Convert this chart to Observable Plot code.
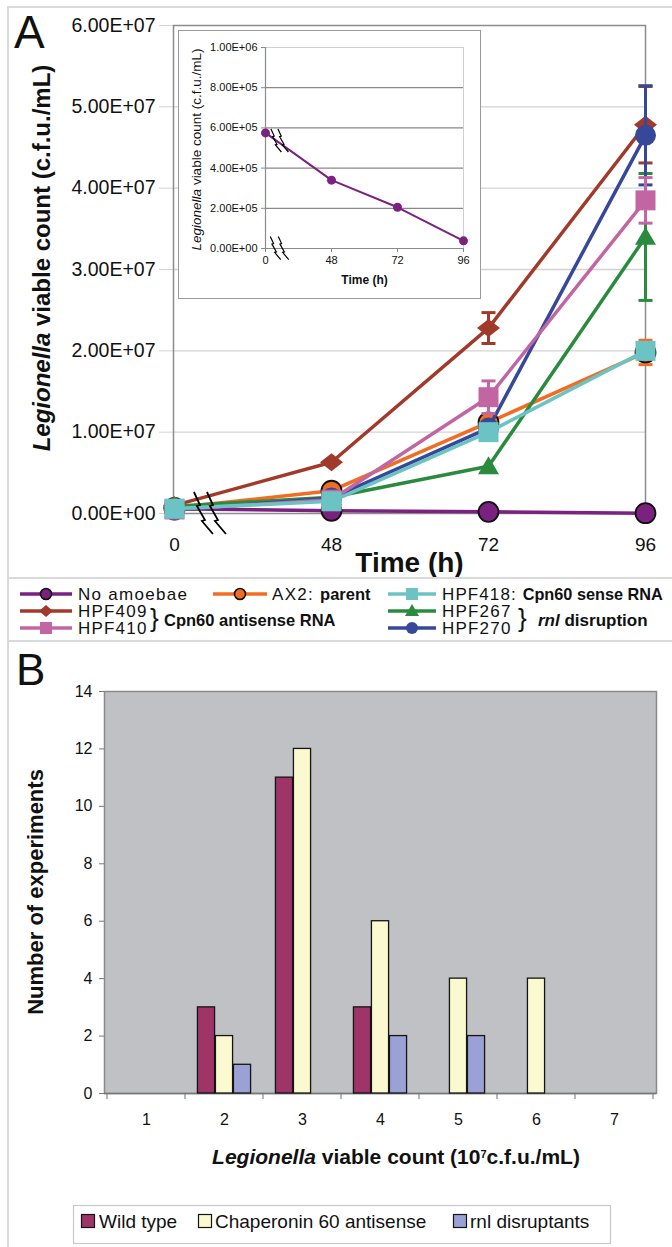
<!DOCTYPE html>
<html><head><meta charset="utf-8">
<script src="https://cdn.jsdelivr.net/npm/d3@7"></script>
<script src="https://cdn.jsdelivr.net/npm/@observablehq/plot@0.6"></script>
<style>
body{margin:0;background:#fff;font-family:"Liberation Sans",Arial,sans-serif;}
#page{position:relative;width:672px;height:1247px;overflow:hidden;background:#fff;}
.abs{position:absolute;}
.hline{position:absolute;left:8px;right:0;height:2px;background:#d9d9d9;}
</style></head><body><div id="page"></div>
<script>
// ---------- data: panel A ----------
const times = [0, 48, 72, 96];
const timeLabels = ["0", "48", "72", "96"];
const noAmoebae = [5.75e5, 3.4e5, 2.05e5, 3.8e4];
const ax2Parent = [7e5, 2.8e6, 1.12e7, 1.98e7];
const hpf418 = [6e5, 1.5e6, 1.0e7, 2.0e7];
const hpf409 = [1.0e6, 6.3e6, 2.28e7, 4.78e7];
const hpf410 = [5e5, 1.7e6, 1.43e7, 3.85e7];
const hpf267 = [9e5, 2.0e6, 5.8e6, 3.4e7];
const hpf270 = [4e5, 1.9e6, 1.05e7, 4.65e7];
const errAx2 = [0, 0, 0, 1.5e6];
const err409 = [0, 0, 1.9e6, 4.7e6];
const err410 = [0, 0, 2.0e6, 2.8e6];
const err267 = [0, 0, 0, 7.8e6];
const err270 = [0, 0, 0, 6.1e6];
const yTicksA = [0, 1e7, 2e7, 3e7, 4e7, 5e7, 6e7];
const yTicksInset = [0, 2e5, 4e5, 6e5, 8e5, 1e6];
// ---------- data: panel B ----------
const countBins = [1, 2, 3, 4, 5, 6, 7];
const wildType = [0, 3, 11, 3, 0, 0, 0];
const chaperonin60 = [0, 2, 12, 6, 4, 4, 0];
const rnlDisruptants = [0, 1, 0, 2, 2, 0, 0];
const countTicks = [0, 2, 4, 6, 8, 10, 12, 14];

const FONT = '"Liberation Sans", Arial, sans-serif';
const page = document.getElementById("page");

function fmtE(v) {
  const [m, e] = v.toExponential(2).split("e");
  return m + "E" + e[0] + e.slice(1).padStart(2, "0");
}
const wideDiamond = {draw(ctx, size) {const r = Math.sqrt(size / Math.PI), w = r * 1.28; ctx.moveTo(-w, 0); ctx.lineTo(0, -r); ctx.lineTo(w, 0); ctx.lineTo(0, r); ctx.closePath();}};
const squareSym = {draw(ctx, size) {const r = Math.sqrt(size / Math.PI); ctx.rect(-r, -r, 2 * r, 2 * r);}};
const triSym = {draw(ctx, size) {const r = Math.sqrt(size / Math.PI); ctx.moveTo(0, -r * 0.95); ctx.lineTo(r, r * 0.75); ctx.lineTo(-r, r * 0.75); ctx.closePath();}};
const capSym = {draw(ctx, size) {const r = Math.sqrt(size / Math.PI); ctx.moveTo(-r, 0); ctx.lineTo(r, 0);}};

function richText(parts, attrs) {
  const t = d3.create("svg:text");
  for (const k in attrs) t.attr(k, attrs[k]);
  for (const p of parts) {
    const ts = t.append("tspan").text(p.text);
    if (p.italic) ts.attr("font-style", "italic");
    if (p.bold) ts.attr("font-weight", "bold");
    if (p.ls != null) ts.attr("letter-spacing", p.ls);
    if (p.size) ts.attr("font-size", p.size);
    if (p.sup) ts.attr("baseline-shift", "super").attr("font-size", p.sup);
  }
  return t;
}
// zigzag "axis break" drawn at a fraction between the first two x points
const zig = [[0, 0], [6, 13], [3, 14], [11, 28], [8, 29], [19, 42]];
function breakMark(frac, yAt, scale, gap, sw) {
  return (index, {x, y}) => {
    const g = d3.create("svg:g").attr("fill", "none").attr("stroke", "#000").attr("stroke-width", sw);
    const x0 = x(times[0]) + frac * (x(times[1]) - x(times[0]));
    const yc = yAt(y, frac);
    for (const off of [0, gap]) {
      g.append("path").attr("d", d3.line()(zig.map(([a, b]) => [x0 + off + a * scale, yc - 21 * scale + b * scale])));
    }
    return g.node();
  };
}

// ---------- panel A ----------
const seriesA = [
  {values: noAmoebae, err: null, color: "#7b2180", symbol: "circle", r: 10, outline: true},
  {values: ax2Parent, err: errAx2, color: "#f26c22", symbol: "circle", r: 10, outline: true},
  {values: hpf409, err: err409, color: "#a23a2b", symbol: wideDiamond, r: 9, outline: false},
  {values: hpf267, err: err267, color: "#2a8b3e", symbol: triSym, r: 10.5, outline: false},
  {values: hpf270, err: err270, color: "#36489a", symbol: "circle", r: 10.5, outline: false},
  {values: hpf410, err: err410, color: "#c266a3", symbol: squareSym, r: 10, outline: false},
  {values: hpf418, err: null, color: "#6cc3c3", symbol: squareSym, r: 10, outline: false}
];
const marksA = [
  Plot.gridY(yTicksA.filter(v => v > 0 && v < 6e7), {stroke: "#d3d3d3", strokeOpacity: 1, strokeWidth: 1.3}),
  Plot.axisY(yTicksA, {tickFormat: fmtE, fontSize: 19.5, tickSize: 14, tickPadding: 4, stroke: "#d3d3d3", fill: "#111", label: null}),
  Plot.axisX(times, {tickFormat: d => timeLabels[times.indexOf(d)], tickSize: 0, tickPadding: 24, fontSize: 19, fill: "#111", label: null}),
  Plot.frame({stroke: "#8c8c8c", strokeWidth: 1.5})
];
for (const s of seriesA) {
  const rows = times.map((t, i) => ({t, v: s.values[i], e: s.err ? s.err[i] : 0}));
  marksA.push(Plot.line(rows, {x: "t", y: "v", stroke: s.color, strokeWidth: 3.5}));
  const eb = rows.filter(d => d.e > 0);
  if (eb.length) {
    marksA.push(Plot.ruleX(eb, {x: "t", y1: d => d.v - d.e, y2: d => d.v + d.e, stroke: s.color, strokeWidth: 3}));
    marksA.push(Plot.dot(eb, {x: "t", y: d => d.v - d.e, symbol: capSym, r: 7, fill: "none", stroke: s.color, strokeWidth: 3}));
    marksA.push(Plot.dot(eb, {x: "t", y: d => d.v + d.e, symbol: capSym, r: 7, fill: "none", stroke: s.color, strokeWidth: 3}));
  }
  marksA.push(Plot.dot(rows, {x: "t", y: "v", symbol: s.symbol, r: s.r, fill: s.color, stroke: s.outline ? "#111" : "none", strokeWidth: 1.8}));
}
marksA.push(breakMark(0.127, (y) => y(0), 1, 13, 1.8));
marksA.push(Plot.text(["Time (h)"], {text: d => d, frameAnchor: "bottom", dy: 58, fontSize: 28, fontWeight: "bold", fill: "#111"}));
marksA.push((index, scales, values, dims) => richText(
  [{text: "Legionella", italic: true}, {text: " viable count (c.f.u./mL)"}],
  {transform: `translate(50,${(dims.marginTop + dims.height - dims.marginBottom) / 2 - 11}) rotate(-90)`, "text-anchor": "middle", "font-size": 24, "font-weight": "bold", fill: "#111"}).node());
marksA.push(() => richText([{text: "A"}], {x: 14, y: 48, "text-anchor": "start", "font-size": 46, fill: "#111"}).node());

const plotA = Plot.plot({
  width: 672, height: 578, marginLeft: 173, marginRight: 27, marginTop: 25, marginBottom: 65,
  style: {fontFamily: FONT, background: "transparent", overflow: "visible"},
  x: {type: "point", domain: times, padding: 0},
  y: {domain: [0, 6e7]},
  marks: marksA
});
plotA.classList.add("abs"); plotA.style.left = "0px"; plotA.style.top = "0px";
page.appendChild(plotA);

// ---------- inset ----------
const insetRows = times.map((t, i) => ({t, v: noAmoebae[i]}));
const inset = Plot.plot({
  width: 301, height: 267, marginLeft: 86, marginRight: 17, marginTop: 16, marginBottom: 50,
  style: {fontFamily: FONT, background: "#fff", overflow: "visible"},
  x: {type: "point", domain: times, padding: 0},
  y: {domain: [0, 1e6]},
  marks: [
    Plot.frame({stroke: "#d0d0d0", strokeWidth: 1}),
    Plot.gridY(yTicksInset.filter(v => v > 0 && v < 1e6), {stroke: "#8a8a8a", strokeOpacity: 1, strokeWidth: 1.2}),
    Plot.ruleY([0], {stroke: "#8a8a8a", strokeWidth: 1.2}),
    Plot.ruleX([0], {stroke: "#8a8a8a", strokeWidth: 1.2}),
    Plot.axisY(yTicksInset, {tickFormat: fmtE, fontSize: 11, tickSize: 4, tickPadding: 4, stroke: "#8a8a8a", fill: "#111", label: null}),
    Plot.axisX(times, {tickFormat: d => timeLabels[times.indexOf(d)], tickSize: 4, tickPadding: 4, fontSize: 11, stroke: "#8a8a8a", fill: "#111", label: null}),
    Plot.line(insetRows, {x: "t", y: "v", stroke: "#7b2180", strokeWidth: 2}),
    Plot.dot(insetRows, {x: "t", y: "v", r: 4.5, fill: "#7b2180"}),
    breakMark(0.09, (y, f) => y(noAmoebae[0]) + (f + 0.08) * (y(noAmoebae[1]) - y(noAmoebae[0])), 0.55, 7, 1.2),
    breakMark(0.08, (y) => y(0), 0.55, 8, 1.2),
    Plot.text(["Time (h)"], {text: d => d, frameAnchor: "bottom", dy: 35, fontSize: 12, fontWeight: "bold", fill: "#111"}),
    (index, scales, values, dims) => richText(
      [{text: "Legionella", italic: true}, {text: " viable count (c.f.u./mL)"}],
      {transform: `translate(22,${(dims.marginTop + dims.height - dims.marginBottom) / 2 + 2}) rotate(-90)`, "text-anchor": "middle", "font-size": 13.5, fill: "#111"}).node()
  ]
});
const insetBox = document.createElement("div");
insetBox.className = "abs";
Object.assign(insetBox.style, {left: "178px", top: "30px", width: "301px", height: "267px", border: "1.5px solid #9a9a9a", background: "#fff"});
insetBox.appendChild(inset);
page.appendChild(insetBox);

// ---------- page lines ----------
for (const top of [6, 577, 640]) {
  const d = document.createElement("div"); d.className = "hline"; d.style.top = top + "px"; page.appendChild(d);
}
{
  const v = document.createElement("div"); v.className = "abs";
  Object.assign(v.style, {left: "7px", top: "6px", width: "2px", bottom: "0px", background: "#d9d9d9"});
  page.appendChild(v);
}

// ---------- legend A ----------
const legendA = [
  {cx: 46, x1: 20, x2: 72, tx: 78, row: 16, color: "#7b2180", shape: "circle", outline: true, parts: [{text: "No amoebae", ls: 1.3}]},
  {cx: 240, x1: 213, x2: 267, tx: 272, row: 16, color: "#f26c22", shape: "circle", outline: true, parts: [{text: "AX2: ", ls: 1.3}, {text: "parent", bold: true, size: 16.5}]},
  {cx: 412, x1: 388, x2: 436, tx: 442, row: 16, color: "#6cc3c3", shape: "square", parts: [{text: "HPF418: ", ls: 1.1}, {text: "Cpn60 sense RNA", bold: true, size: 16.3}]},
  {cx: 46, x1: 20, x2: 72, tx: 78, row: 33, color: "#a23a2b", shape: "diamond", parts: [{text: "HPF409", ls: 1.2}]},
  {cx: 46, x1: 20, x2: 72, tx: 78, row: 50, color: "#c266a3", shape: "square", parts: [{text: "HPF410", ls: 1.2}]},
  {cx: 412, x1: 388, x2: 436, tx: 442, row: 33, color: "#2a8b3e", shape: "triangle", parts: [{text: "HPF267", ls: 1.2}]},
  {cx: 412, x1: 388, x2: 436, tx: 442, row: 50, color: "#36489a", shape: "circle", parts: [{text: "HPF270", ls: 1.2}]}
];
const la = d3.create("svg").attr("width", 672).attr("height", 62).attr("class", "abs")
  .style("left", "0px").style("top", "578px").style("font-family", FONT);
for (const it of legendA) {
  la.append("line").attr("x1", it.x1).attr("x2", it.x2).attr("y1", it.row).attr("y2", it.row).attr("stroke", it.color).attr("stroke-width", 3.5);
  if (it.shape === "circle") la.append("circle").attr("cx", it.cx).attr("cy", it.row).attr("r", it.outline ? 5.5 : 6).attr("fill", it.color).attr("stroke", it.outline ? "#111" : "none").attr("stroke-width", 1.6);
  if (it.shape === "square") la.append("rect").attr("x", it.cx - 6).attr("y", it.row - 6).attr("width", 12).attr("height", 12).attr("fill", it.color);
  if (it.shape === "diamond") la.append("path").attr("d", `M${it.cx - 7},${it.row}L${it.cx},${it.row - 6}L${it.cx + 7},${it.row}L${it.cx},${it.row + 6}Z`).attr("fill", it.color);
  if (it.shape === "triangle") la.append("path").attr("d", `M${it.cx},${it.row - 7}L${it.cx + 7},${it.row + 5}L${it.cx - 7},${it.row + 5}Z`).attr("fill", it.color);
  la.append(() => richText(it.parts, {x: it.tx, y: it.row + 6, "font-size": 17, fill: "#111"}).node());
}
la.append(() => richText([{text: "}"}], {x: 150, y: 49, "font-size": 26, fill: "#111"}).node());
la.append(() => richText([{text: "Cpn60 antisense RNA"}], {x: 164, y: 48, "font-size": 16.5, "font-weight": "bold", fill: "#111"}).node());
la.append(() => richText([{text: "}"}], {x: 518, y: 49, "font-size": 26, fill: "#111"}).node());
la.append(() => richText([{text: "rnl", italic: true}, {text: "  disruption"}], {x: 538, y: 48, "font-size": 17, "font-weight": "bold", fill: "#111"}).node());
page.appendChild(la.node());

// ---------- panel B ----------
const binTable = countBins.map((b, i) => ({bin: b, wild: wildType[i], chap: chaperonin60[i], rnl: rnlDisruptants[i]}));
const BW = 672, BML = 104, BMR = 16;
const bandW = (BW - BML - BMR) / countBins.length;
const barW = 18;
const barInset = (bandW - barW) / 2;
const barSeries = [
  {key: "wild", fill: "#9e3468", dx: -barW},
  {key: "chap", fill: "#fbf9cf", dx: 0},
  {key: "rnl", fill: "#9aa1d5", dx: barW}
];
const plotB = Plot.plot({
  width: BW, height: 550, marginLeft: BML, marginRight: BMR, marginTop: 50, marginBottom: 98,
  style: {fontFamily: FONT, background: "transparent", overflow: "visible"},
  x: {type: "band", domain: countBins, padding: 0},
  y: {domain: [0, 14]},
  marks: [
    Plot.frame({fill: "#c0c1c5", stroke: "#8a8a8a", strokeWidth: 1.5}),
    Plot.axisY(countTicks, {fontSize: 16, tickSize: 5, tickPadding: 7, stroke: "#777", fill: "#111", label: null}),
    Plot.axisX(countBins, {fontSize: 16, tickSize: 0, tickPadding: 20, fill: "#111", label: null}),
    (index, {x, y}) => {
      const g = d3.create("svg:g").attr("stroke", "#888").attr("stroke-width", 1.2);
      const step = x(countBins[1]) - x(countBins[0]);
      const edges = countBins.map(b => x(b)).concat([x(countBins[countBins.length - 1]) + step]);
      for (const e of edges) g.append("line").attr("x1", e).attr("x2", e).attr("y1", y(0)).attr("y2", y(0) + 6);
      return g.node();
    },
    Plot.ruleY([0], {stroke: "#777", strokeWidth: 1.5}),
    ...barSeries.map(s => Plot.barY(binTable, {x: "bin", y: s.key, fill: s.fill, stroke: "#151515", strokeWidth: 1.3,
      insetLeft: barInset, insetRight: barInset, dx: s.dx, filter: d => d[s.key] > 0})),
    (index, scales, values, dims) => richText([{text: "Number of experiments"}],
      {transform: `translate(43,${(dims.marginTop + dims.height - dims.marginBottom) / 2}) rotate(-90)`, "text-anchor": "middle", "font-size": 22, "font-weight": "bold", fill: "#111"}).node(),
    (index, scales, values, dims) => richText(
      [{text: "Legionella", italic: true}, {text: " viable count (10"}, {text: "7", sup: 11}, {text: "c.f.u./mL)"}],
      {x: (dims.marginLeft + dims.width - dims.marginRight) / 2 + 16, y: dims.height - dims.marginBottom + 71, "text-anchor": "middle", "font-size": 21, "font-weight": "bold", fill: "#111"}).node(),
    () => richText([{text: "B"}], {x: 16, y: 44, "text-anchor": "start", "font-size": 44, fill: "#111"}).node()
  ]
});
plotB.classList.add("abs"); plotB.style.left = "0px"; plotB.style.top = "641px";
page.appendChild(plotB);

// ---------- legend B ----------
const legendB = [
  {label: "Wild type", fill: "#9e3468", mx: 81, tx: 99},
  {label: "Chaperonin 60 antisense", fill: "#fbf9cf", mx: 198, tx: 215},
  {label: "rnl disruptants", fill: "#9aa1d5", mx: 453, tx: 470}
];
const lb = d3.create("svg").attr("width", 672).attr("height", 50).attr("class", "abs")
  .style("left", "0px").style("top", "1197px").style("font-family", FONT);
lb.append("rect").attr("x", 73.5).attr("y", 8.5).attr("width", 537).attr("height", 38).attr("fill", "#fff").attr("stroke", "#c8c8c8").attr("stroke-width", 1.2);
for (const it of legendB) {
  lb.append("rect").attr("x", it.mx + 0.5).attr("y", 17.5).attr("width", 13).attr("height", 13).attr("fill", it.fill).attr("stroke", "#151515").attr("stroke-width", 1.2);
  lb.append("text").attr("x", it.tx).attr("y", 31).attr("font-size", 19).attr("fill", "#111").text(it.label);
}
page.appendChild(lb.node());
</script></body></html>
